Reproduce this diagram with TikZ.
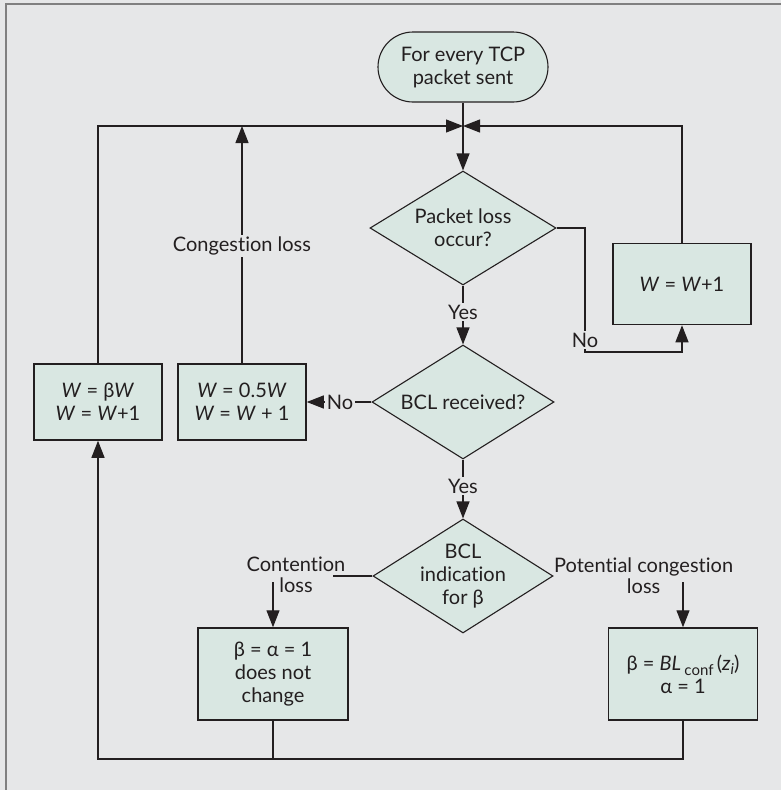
\documentclass[tikz,border=0pt]{standalone}
\usepackage{fontspec}
\setmainfont{Lato}[Ligatures={NoCommon}]
\usetikzlibrary{shapes.geometric,shapes.misc,arrows.meta}

\begin{document}
\begin{tikzpicture}[x=1pt,y=-1pt]

% colori
\definecolor{sfondo}{HTML}{E6E7E8}
\definecolor{riempi}{HTML}{D9E7E2}
\definecolor{linea}{HTML}{231F20}
% stili dei testi e dei nodi
\tikzset{mytext/.style={font=\fontsize{20}{23}\selectfont, text=linea, align=center}}
\tikzset{mybox/.style={rectangle, draw=linea, fill=riempi, line width=1.5pt, mytext, inner sep=0pt}}
\tikzset{mydiamond/.style={diamond, draw=linea, fill=riempi, line width=1.1pt, mytext, inner sep=-8pt, aspect=1.6, minimum width=#1, minimum height=114}}
\tikzset{mystart/.style={rounded rectangle, draw=linea, fill=riempi, line width=1.1pt, mytext, inner sep=0pt, minimum width=170, minimum height=70}}
\tikzset{mylabel/.style={mytext, inner sep=2pt}}
% stili delle linee
\tikzset{myline/.style={draw=linea, line width=1.2pt}}
\tikzset{myarrow/.style={myline, -{Triangle[length=17pt,width=13pt]}}}

% sfondo e cornice
\useasboundingbox (0,0) rectangle (781,790);
\fill[sfondo] (0,0) rectangle (781,790);
\draw[gray, line width=2pt] (6,790) -- (6,4) -- (781,4);

% nodi centrali
\node[mystart] (start) at (463,67) {For every TCP\\packet sent};
\coordinate (j) at (463,126);
\node[mydiamond=186] (d1) at (463,228) {Packet loss\\occur?};
\node[mylabel] (yes1) at (463,312) {Yes};
\node[mydiamond=182] (d2) at (463,402) {BCL received?};
\node[mylabel] (yes2) at (463,486) {Yes};
\node[mydiamond=180] (d3) at (463,576) {BCL\\indication\\for β};

% ramo a destra
\node[mylabel] (no1) at (585,340) {No};
\coordinate (n1) at (585,352);
\node[mybox, minimum width=138, minimum height=81] (b3) at (682,284) {\textit{W} = \textit{W}+1};

% ramo a sinistra
\node[mylabel] (no2) at (340,402) {No};
\node[mybox, minimum width=128, minimum height=76] (b2) at (242,402) {\textit{W} = 0.5\textit{W}\\\textit{W} = \textit{W} + 1};
\node[mybox, minimum width=128, minimum height=76] (b1) at (98,402) {\textit{W} = β\textit{W}\\\textit{W} = \textit{W}+1};
\node[mylabel] (cong) at (242,246) {Congestion loss};

% indicazione BCL
\node[mylabel, font=\fontsize{20}{21}\selectfont] (cont) at (296,575) {Contention\\loss};
\coordinate (c0) at (333,576);
\coordinate (c1) at (273,582);
\node[mylabel, font=\fontsize{20}{21}\selectfont, anchor=west] (pot) at (552,576) {Potential congestion\\loss};
\coordinate (c2) at (683,582);
\node[mybox, minimum width=150, minimum height=92] (b4) at (273,674) {β = α = 1\\does not\\change};
\node[mybox, minimum width=149, minimum height=92] (b5) at (683,674) {β = \textit{BL}\,\raisebox{-0.5ex}{\fontsize{15}{15}\selectfont conf}\,(\textit{z}\raisebox{-0.4ex}{\fontsize{15}{15}\selectfont\textit{i}})\\α = 1};
\coordinate (fondo) at (0,759);

% collegamenti
\draw[myarrow] (start.south) -- (d1.north);
\draw[myarrow] (b1.north) |- (j);
\draw[myarrow] (b3.north) |- (j);
\draw[myline] (b2.north) -- (cong.south);
\draw[myarrow] (cong.north) -- (b2.north |- j);

\draw[myline] (d1.east) -| (no1.north);
\draw[myarrow] (no1.south) -- (n1) -| (b3.south);
\draw[myline] (d1.south) -- (yes1.north);
\draw[myarrow] (yes1.south) -- (d2.north);

\draw[myline] (d2.west) -- (no2.east);
\draw[myarrow] (no2.west) -- (b2.east);
\draw[myline] (d2.south) -- (yes2.north);
\draw[myarrow] (yes2.south) -- (d3.north);

\draw[myline] (d3.west) -- (c0);
\draw[myarrow] (c1) -- (b4.north);
\draw[myarrow] (c2) -- (b5.north);

% ritorno in basso
\draw[myline] (b4.south) -- (b4.south |- fondo);
\draw[myarrow] (b5.south) |- (b1.south |- fondo) -- (b1.south);

\end{tikzpicture}
\end{document}
